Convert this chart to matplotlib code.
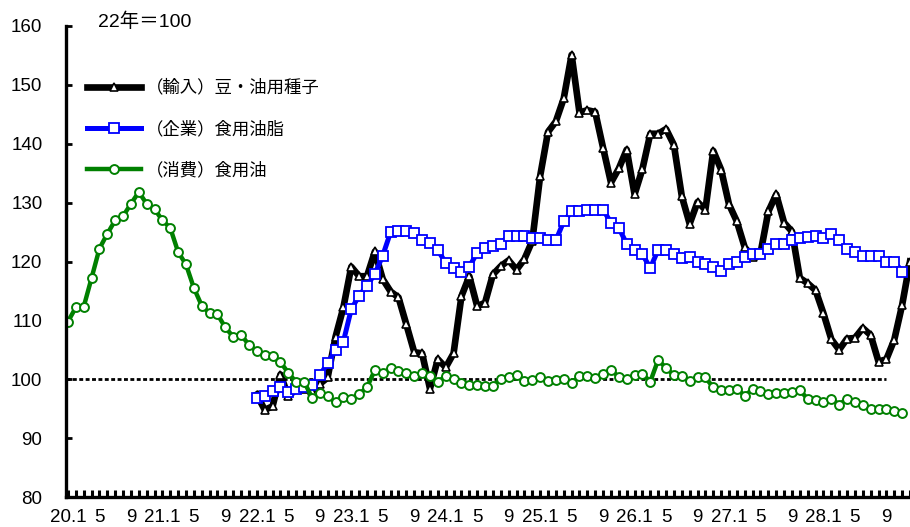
import matplotlib
matplotlib.use("Agg")
import matplotlib.pyplot as plt
import numpy as np

plt.rcParams["font.family"] = ["Liberation Sans", "Noto Sans CJK JP", "DejaVu Sans"]

# Monthly index: position 0 = 2020.1 (labelled "20.1")
n_months = 108
tick_labels = []
for i in range(n_months):
    yr, m = 20 + i // 12, i % 12 + 1
    if m == 1:
        tick_labels.append(f"{yr}.1")
    elif m in (5, 9):
        tick_labels.append(str(m))
    else:
        tick_labels.append("")

# （消費）食用油 : from 20.1
consumer_oil = [
    109.8, 112.2, 112.3, 117.2, 122.2, 124.7, 127.0, 127.7, 129.8, 131.8, 129.8, 128.9,
    127.0, 125.7, 121.6, 119.5, 115.5, 112.5, 111.2, 111.0, 108.8, 107.2, 107.6, 105.8,
    104.8, 104.1, 103.9, 102.9, 101.1, 99.5, 99.6, 96.9, 97.6, 97.1, 96.1, 97.0,
    96.7, 97.5, 98.6, 101.6, 101.0, 101.9, 101.4, 101.0, 100.6, 101.0, 100.5, 99.6,
    100.5, 100.0, 99.4, 99.1, 99.0, 98.8, 98.8, 100.1, 100.3, 100.8, 99.7, 99.9,
    100.3, 99.7, 99.9, 100.1, 99.3, 100.5, 100.6, 100.2, 100.9, 101.6, 100.4, 100.0,
    100.7, 100.9, 99.6, 103.3, 101.9, 100.7, 100.5, 99.7, 100.4, 100.3, 98.6, 98.2,
    98.2, 98.4, 97.2, 98.3, 98.0, 97.5, 97.7, 97.7, 97.9, 98.2, 96.6, 96.5,
    96.1, 96.7, 95.7, 96.7, 96.1, 95.6, 94.9, 94.9, 94.9, 94.6, 94.2,
]
consumer_start = 0

# （企業）食用油脂 : from 22.1
corporate_fats = [
    96.9, 97.1, 98.0, 98.7, 97.8, 98.3, 98.6, 99.1, 100.7, 102.7, 105.0, 106.4,
    111.9, 114.2, 115.9, 117.9, 121.0, 125.0, 125.1, 125.1, 124.9, 123.7, 123.1, 121.9,
    119.8, 118.9, 118.2, 119.1, 121.5, 122.3, 122.7, 123.0, 124.4, 124.3, 124.3, 124.0,
    124.0, 123.7, 123.6, 126.8, 128.5, 128.5, 128.8, 128.8, 128.8, 126.6, 125.7, 123.0,
    122.0, 121.2, 118.9, 122.0, 122.0, 121.3, 120.6, 120.8, 119.9, 119.6, 119.1, 118.4,
    119.6, 119.9, 120.7, 121.3, 121.2, 122.2, 123.0, 122.9, 123.6, 124.0, 124.1, 124.4,
    124.0, 124.6, 123.6, 122.1, 121.6, 121.0, 120.9, 120.9, 120.0, 120.0, 118.3,
]
corporate_start = 24

# （輸入）豆・油用種子 : from 22.1
import_seeds = [
    97.4, 94.8, 95.4, 100.8, 97.1, 98.3, 98.3, 98.0, 99.2, 100.3, 107.2, 112.2,
    119.1, 117.5, 117.5, 121.7, 117.0, 114.9, 113.9, 109.3, 104.6, 104.4, 98.4, 103.4,
    102.0, 104.4, 114.1, 117.5, 112.4, 113.0, 117.8, 119.2, 120.2, 118.6, 120.4, 123.5,
    134.5, 142.0, 143.8, 147.7, 155.1, 145.3, 145.7, 145.4, 139.3, 133.4, 135.8, 139.0,
    131.4, 135.7, 141.7, 141.7, 142.5, 139.8, 131.1, 126.4, 130.1, 128.8, 138.8, 135.6,
    129.7, 126.8, 122.4, 120.8, 121.4, 128.5, 131.4, 126.6, 125.1, 117.2, 116.3, 115.1,
    111.2, 106.8, 105.0, 106.9, 107.0, 108.7, 107.5, 103.0, 103.4, 106.7, 112.6, 120.0,
]
import_start = 24

base_value = 100
base_end = 104  # reference line runs to 28.9

W, H = 910, 527
fig = plt.figure(figsize=(W / 100, H / 100), dpi=100)
ax = fig.add_axes([66 / W, (H - 497) / H, 1 - 66 / W, (497 - 26) / H])

ax.hlines(base_value, -0.25, base_end, colors="black", linewidth=2.0,
          linestyles=(0, (1.4, 0.9)), zorder=1)

x_imp = np.arange(import_start, import_start + len(import_seeds))
x_corp = np.arange(corporate_start, corporate_start + len(corporate_fats))
x_cons = np.arange(consumer_start, consumer_start + len(consumer_oil))

ax.plot(x_imp, import_seeds, color="black", linewidth=4.8, marker="^",
        markersize=6.4, markerfacecolor="white", markeredgecolor="black",
        markeredgewidth=1.2, label="（輸入）豆・油用種子", zorder=3)
ax.plot(x_corp, corporate_fats, color="#0000FF", linewidth=3.6, marker="s",
        markersize=6.8, markerfacecolor="white", markeredgecolor="#0000FF",
        markeredgewidth=1.3, label="（企業）食用油脂", zorder=4)
ax.plot(x_cons, consumer_oil, color="#008000", linewidth=3.2, marker="o",
        markersize=6.4, markerfacecolor="white", markeredgecolor="#008000",
        markeredgewidth=1.4, label="（消費）食用油", zorder=5)

ax.set_xlim(-0.25, 106.45)
ax.set_ylim(80, 160)
ax.set_yticks(np.arange(80, 161, 10))
ax.set_xticks(np.arange(n_months))
ax.set_xticklabels(tick_labels)

for side in ("top", "right"):
    ax.spines[side].set_visible(False)
for side in ("left", "bottom"):
    ax.spines[side].set_linewidth(2.4)
    ax.spines[side].set_zorder(6)

ax.tick_params(axis="x", direction="in", length=5, width=2.2, labelsize=13.5, pad=9)
ax.tick_params(axis="y", direction="in", length=4, width=2, labelsize=13.5, pad=17)

fig.text(98 / W, 1 - 22 / H, "22年＝100", fontsize=14, va="center", ha="left")

ax.legend(loc="upper left", bbox_to_anchor=(87 / W, 1 - 79 / H),
          bbox_transform=fig.transFigure, frameon=False, fontsize=12.5,
          handlelength=3.1, handletextpad=0.3, labelspacing=1.42,
          borderpad=0, borderaxespad=0, numpoints=1)

fig.savefig("out.png", dpi=100)
